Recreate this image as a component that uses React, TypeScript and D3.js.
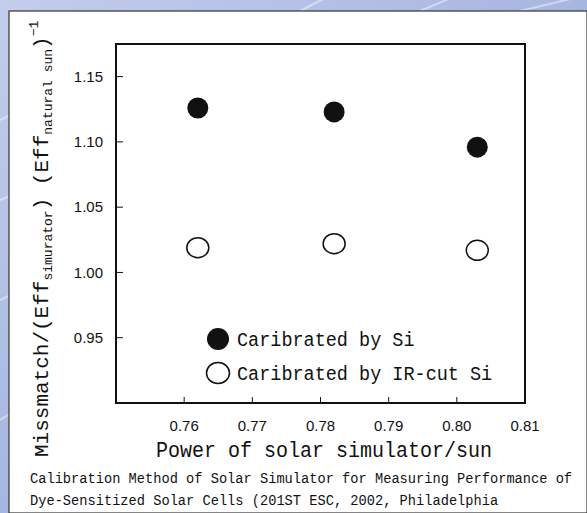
import * as d3 from "d3";

// values
const power = [0.762, 0.782, 0.803];
const mismatchSi = [1.126, 1.123, 1.096];
const mismatchIRcut = [1.019, 1.022, 1.017];
const xTicks = [0.76, 0.77, 0.78, 0.79, 0.8, 0.81];
const yTicks = [0.95, 1.0, 1.05, 1.1, 1.15];
const legendLabels = ["Caribrated by Si", "Caribrated by IR-cut Si"];
const captionLines = [
  "Calibration Method of Solar Simulator for Measuring Performance of",
  "Dye-Sensitized Solar Cells (201ST ESC, 2002, Philadelphia",
];

const W = 587;
const H = 513;
const frame = { left: 116, right: 525, top: 44, bottom: 403 };
const mono = "'Liberation Mono', 'DejaVu Sans Mono', monospace";
const sans = "'Liberation Sans', Arial, sans-serif";

const App = () => {
  const x = d3.scaleLinear().domain([0.75, 0.81]).range([frame.left, frame.right]);
  const y = d3.scaleLinear().domain([0.9, 1.175]).range([frame.bottom, frame.top]);

  const si = power.map((p, i) => ({ p, m: mismatchSi[i] }));
  const ir = power.map((p, i) => ({ p, m: mismatchIRcut[i] }));

  // a few light streaks for the blue backdrop
  const streaks = [
    [0, 120, 160, 40],
    [0, 200, 120, 150],
    [0, 300, 60, 270],
    [0, 420, 50, 390],
    [300, 11, 360, -20],
    [420, 11, 470, -10],
    [520, 11, 587, -5],
  ];

  return (
    <svg
      width={W}
      height={H}
      style={{ position: "absolute", left: 0, top: 0, display: "block" }}
    >
      <defs>
        <linearGradient id="bg" x1="0" y1="0" x2="1" y2="1">
          <stop offset="0%" stopColor="#c3cdec" />
          <stop offset="50%" stopColor="#a7b6e0" />
          <stop offset="100%" stopColor="#8fa2d4" />
        </linearGradient>
      </defs>
      <rect x={0} y={0} width={W} height={H} fill="url(#bg)" />
      {streaks.map((s, i) => (
        <line
          key={i}
          x1={s[0]}
          y1={s[1]}
          x2={s[2]}
          y2={s[3]}
          stroke="#ffffff"
          strokeOpacity={0.45}
          strokeWidth={2}
        />
      ))}

      {/* white panel */}
      <rect x={9} y={11} width={W - 9} height={H - 11} fill="#ffffff" stroke="#333" strokeWidth={1.2} />

      {/* plot frame */}
      <rect
        x={frame.left}
        y={frame.top}
        width={frame.right - frame.left}
        height={frame.bottom - frame.top}
        fill="none"
        stroke="#111"
        strokeWidth={2}
      />

      {/* y ticks */}
      {yTicks.map((t) => (
        <g key={t}>
          <line x1={frame.left} x2={frame.left + 7} y1={y(t)} y2={y(t)} stroke="#111" strokeWidth={1} />
          <text
            x={frame.left - 13}
            y={y(t)}
            dy="0.35em"
            textAnchor="end"
            fontFamily={sans}
            fontSize={15}
            fill="#111"
          >
            {d3.format(".2f")(t)}
          </text>
        </g>
      ))}

      {/* x ticks */}
      {xTicks.map((t) => (
        <g key={t}>
          {t < 0.805 && (
            <line x1={x(t)} x2={x(t)} y1={frame.bottom} y2={frame.bottom - 6} stroke="#111" strokeWidth={1} />
          )}
          <text x={x(t)} y={431} textAnchor="middle" fontFamily={sans} fontSize={15} fill="#111">
            {d3.format(".2f")(t)}
          </text>
        </g>
      ))}

      {/* data */}
      {si.map((d, i) => (
        <circle key={"si" + i} cx={x(d.p)} cy={y(d.m)} r={10.5} fill="#111" />
      ))}
      {ir.map((d, i) => (
        <ellipse
          key={"ir" + i}
          cx={x(d.p)}
          cy={y(d.m)}
          rx={11}
          ry={10}
          fill="#fff"
          stroke="#111"
          strokeWidth={1.5}
        />
      ))}

      {/* legend */}
      <circle cx={218} cy={339} r={11} fill="#111" />
      <ellipse cx={218} cy={373} rx={11.5} ry={10.5} fill="#fff" stroke="#111" strokeWidth={1.5} />
      {legendLabels.map((l, i) => (
        <text
          key={l}
          transform={`translate(237,${346 + i * 34}) scale(1,1.1)`}
          fontFamily={mono}
          fontSize={18.5}
          fill="#111"
        >
          {l}
        </text>
      ))}

      {/* axis titles */}
      <text
        transform="translate(324,457) scale(1,1.12)"
        textAnchor="middle"
        fontFamily={mono}
        fontSize={20}
        fill="#111"
      >
        Power of solar simulator/sun
      </text>
      <text
        transform="translate(48,457) rotate(-90)"
        fontFamily={mono}
        fontSize={21}
        fill="#111"
      >
        <tspan>Missmatch/(Eff</tspan>
        <tspan fontSize={13} dy={4}>simurator</tspan>
        <tspan dy={-4}>) (Eff</tspan>
        <tspan fontSize={13} dy={4}>natural sun</tspan>
        <tspan dy={-4}>)</tspan>
        <tspan fontSize={13} dy={-10}>−1</tspan>
      </text>

      {/* caption */}
      {captionLines.map((c, i) => (
        <text
          key={i}
          transform={`translate(30,${483 + i * 22}) scale(1,1.12)`}
          fontFamily={mono}
          fontSize={13.7}
          fill="#111"
        >
          {c}
        </text>
      ))}
    </svg>
  );
};

export default App;
